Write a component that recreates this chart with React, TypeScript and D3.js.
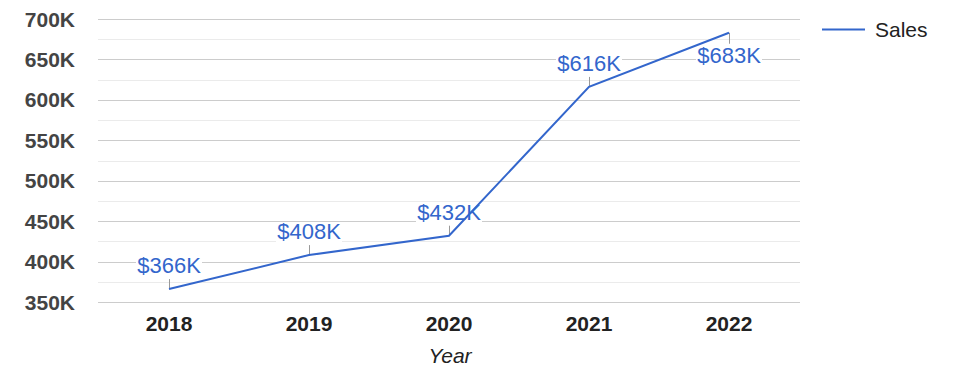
import React from "react";
import * as d3 from "d3";

const years = ["2018", "2019", "2020", "2021", "2022"];
const sales = [366000, 408000, 432000, 616000, 683000];
const labels = ["$366K", "$408K", "$432K", "$616K", "$683K"];
const labelBelow = [false, false, false, false, true];
const majorTicks = [350000, 400000, 450000, 500000, 550000, 600000, 650000, 700000];
const minorTicks = [375000, 425000, 475000, 525000, 575000, 625000, 675000];

const W = 975, H = 378;
const left = 98, right = 800, top = 19, bottom = 302;
const FONT = "Arial, 'Liberation Sans', sans-serif";
const BLUE = "#3366cc";

export default function App() {
  const x = d3.scaleBand<string>().domain(years).range([left + 1, right - 1]);
  const y = d3.scaleLinear().domain([350000, 700000]).range([bottom, top]);
  const line = d3.line<number>()
    .x((_, i) => (x(years[i]) as number) + x.bandwidth() / 2)
    .y((d) => y(d));
  const fmt = (v: number) => `${v / 1000}K`;
  const fs = 21;

  return (
    <svg width={W} height={H} style={{ position: "absolute", left: 0, top: 0, background: "#fff" }} fontFamily={FONT}>
      {minorTicks.map((t) => (
        <line key={"m" + t} x1={left} x2={right} y1={Math.round(y(t)) + 0.5} y2={Math.round(y(t)) + 0.5} stroke="#ebebeb" />
      ))}
      {majorTicks.map((t) => (
        <line key={"g" + t} x1={left} x2={right} y1={Math.round(y(t)) + 0.5} y2={Math.round(y(t)) + 0.5} stroke="#cccccc" />
      ))}
      {majorTicks.map((t) => (
        <text key={"t" + t} x={75} y={y(t)} dy="0.36em" textAnchor="end" fontSize={fs} fontWeight="bold" fill="#444">
          {fmt(t)}
        </text>
      ))}
      {years.map((yr) => (
        <text key={"x" + yr} x={(x(yr) as number) + x.bandwidth() / 2} y={331} textAnchor="middle" fontSize={fs} fontWeight="bold" fill="#222">
          {yr}
        </text>
      ))}
      <text x={450} y={363} textAnchor="middle" fontSize={fs} fontStyle="italic" fill="#222">Year</text>

      {sales.map((v, i) => {
        const cx = (x(years[i]) as number) + x.bandwidth() / 2;
        const py = y(v);
        const below = labelBelow[i];
        const base = below ? py + 30 : py - 16;
        const w = 66;
        return (
          <g key={"lbl" + i}>
            <rect x={cx - w / 2} y={base - 17} width={w} height={20} fill="#fff" />
            <line x1={cx + 0.5} x2={cx + 0.5} y1={py} y2={below ? py + 11 : py - 10} stroke="#999" />
          </g>
        );
      })}
      <path d={line(sales) ?? ""} fill="none" stroke={BLUE} strokeWidth={2} />
      {sales.map((v, i) => {
        const cx = (x(years[i]) as number) + x.bandwidth() / 2;
        const py = y(v);
        const base = labelBelow[i] ? py + 30 : py - 16;
        return (
          <text key={"lt" + i} x={cx} y={base} textAnchor="middle" fontSize={22} fill={BLUE}>
            {labels[i]}
          </text>
        );
      })}

      <line x1={822} x2={865} y1={29.5} y2={29.5} stroke={BLUE} strokeWidth={2} />
      <text x={875} y={29} dy="0.36em" fontSize={21} fill="#222">Sales</text>
    </svg>
  );
}
